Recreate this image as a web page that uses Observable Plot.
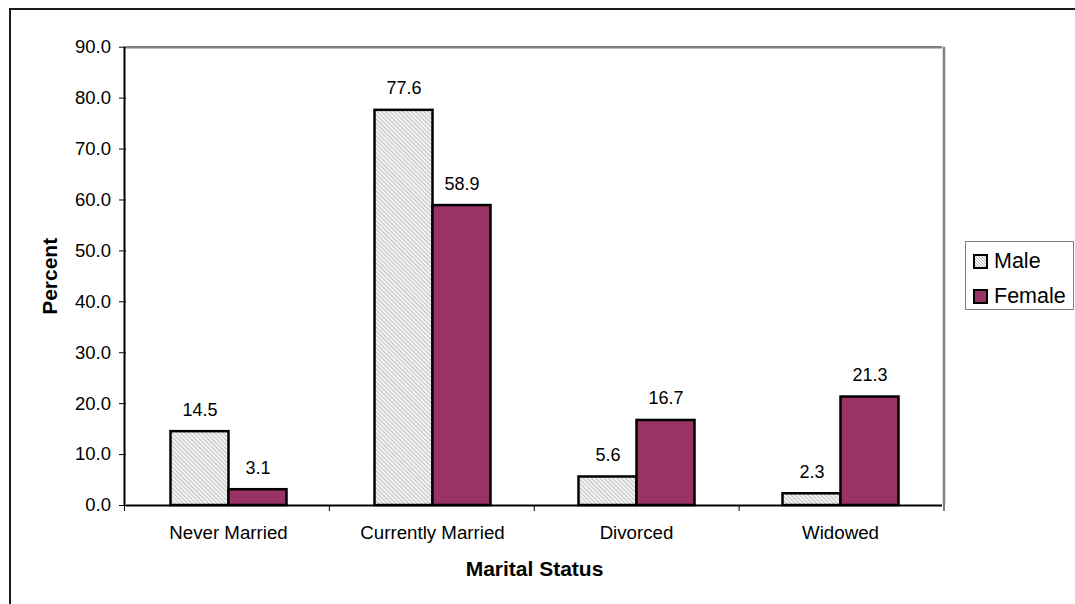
<!DOCTYPE html>
<html>
<head>
<meta charset="utf-8">
<script src="https://cdn.jsdelivr.net/npm/d3@7"></script>
<script src="https://cdn.jsdelivr.net/npm/@observablehq/plot@0.6"></script>
<style>
  html, body { margin: 0; padding: 0; background: #fff; }
  body { font-family: "Liberation Sans", Arial, sans-serif; }
  #wrap { position: relative; width: 1075px; height: 604px; overflow: hidden; background: #fff; }
  #chart { position: absolute; left: 0; top: 0; }
  #outer { position: absolute; left: 9px; top: 8px; width: 1200px; height: 800px;
           border-left: 2px solid #1a1a1a; border-top: 2px solid #1a1a1a; pointer-events: none; }
  #legend { position: absolute; left: 965px; top: 241px; width: 109px; height: 69px;
            border: 1.5px solid #7f7f7f; box-sizing: border-box; background: #fff; }
  .item { position: absolute; left: 7px; height: 24px; font-size: 21.5px; line-height: 24px; color: #000; white-space: nowrap; }
  .sw { position: absolute; left: 0; width: 15px; height: 15px; box-sizing: border-box; border: 2px solid #000; }
  .lab { position: absolute; left: 21px; top: 0; }
</style>
</head>
<body>
<div id="wrap">
  <div id="chart"></div>
  <div id="outer"></div>
  <div id="legend"></div>
</div>
<script>
// ---- data ----
const categories = ["Never Married", "Currently Married", "Divorced", "Widowed"];
const series = ["Male", "Female"];
const maleValues = [14.5, 77.6, 5.6, 2.3];
const femaleValues = [3.1, 58.9, 16.7, 21.3];
const yTicks = [0, 10, 20, 30, 40, 50, 60, 70, 80, 90];
const xTitle = "Marital Status";
const yTitle = "Percent";
const seriesColors = ["url(#hatch)", "#993366"];

const rows = [];
categories.forEach((c, i) => {
  rows.push({category: c, sex: "Male", value: maleValues[i]});
  rows.push({category: c, sex: "Female", value: femaleValues[i]});
});

const font = "'Liberation Sans', Arial, sans-serif";

const plot = Plot.plot({
  width: 1075,
  height: 604,
  marginLeft: 124.5,
  marginRight: 131,
  marginTop: 46.7,
  marginBottom: 99,
  style: {fontFamily: font, fontSize: "18.5px", color: "#000", background: "transparent", overflow: "visible"},
  fx: {domain: categories, padding: 0},
  x: {domain: series, paddingInner: 0, paddingOuter: 0.742, axis: null},
  y: {domain: [0, 90]},
  color: {type: "ordinal", domain: series, range: seriesColors},
  marks: [
    Plot.ruleY([90], {stroke: "#808080", strokeWidth: 2.5}),
    Plot.barY(rows, {fx: "category", x: "sex", y: "value", fill: "sex", stroke: "#000", strokeWidth: 2.5}),
    Plot.ruleY([0], {stroke: "#000", strokeWidth: 2}),
    Plot.text(rows, {fx: "category", x: "sex", y: "value", text: d => d.value.toFixed(1),
      lineAnchor: "bottom", dy: -16, fontSize: 18, fill: "#000"}),
    Plot.axisY({ticks: yTicks, tickFormat: d3.format(".1f"), tickSize: 7, tickPadding: 8.5,
      stroke: "#000", strokeWidth: 1, fontSize: 18.5, label: null}),
    Plot.axisY({ticks: [], tickSize: 0, label: yTitle, labelAnchor: "center", labelArrow: "none",
      labelOffset: 84, fontSize: 21, fontWeight: "bold"}),
    Plot.axisFx({anchor: "bottom", tickSize: 0, tickPadding: 20, fontSize: 18.7, label: null}),
    Plot.axisFx({anchor: "bottom", ticks: [], tickSize: 0, label: xTitle, labelAnchor: "center",
      labelArrow: "none", labelOffset: 70.5, fontSize: 21, fontWeight: "bold"})
  ]
});

document.getElementById("chart").appendChild(plot);
const svgEl = plot.tagName.toLowerCase() === "svg" ? plot : plot.querySelector("svg");
const svg = d3.select(svgEl);

// hatch pattern for the Male bars
svg.insert("defs", ":first-child").html(
  '<pattern id="hatch" patternUnits="userSpaceOnUse" width="3" height="3" patternTransform="rotate(-45)">' +
  '<rect width="3" height="3" fill="#f6f6f6"/>' +
  '<line x1="0.6" y1="0" x2="0.6" y2="3" stroke="#b4b4b4" stroke-width="0.9"/></pattern>'
);

// plot-area lines, built from the library's own scales
const fxS = plot.scale("fx");
const yS = plot.scale("y");
const band = d3.scaleBand().domain(fxS.domain).range(fxS.range)
  .paddingInner(fxS.paddingInner ?? fxS.padding ?? 0)
  .paddingOuter(fxS.paddingOuter ?? fxS.padding ?? 0)
  .align(fxS.align ?? 0.5);
const yLin = d3.scaleLinear().domain(yS.domain).range(yS.range);
const y0 = yLin(0), yTop = yLin(90);
const xLeft = band(categories[0]);
const xRight = band(categories[categories.length - 1]) + band.bandwidth();
const g = svg.append("g");
// right gray border of plot area
g.append("line").attr("x1", xRight).attr("x2", xRight).attr("y1", yTop).attr("y2", y0)
  .attr("stroke", "#808080").attr("stroke-width", 2.5);
// y axis line
g.append("line").attr("x1", xLeft).attr("x2", xLeft).attr("y1", yTop).attr("y2", y0)
  .attr("stroke", "#000").attr("stroke-width", 2);
// category boundary ticks
const bounds = categories.map(c => band(c)).concat([xRight]);
g.selectAll("line.b").data(bounds).join("line")
  .attr("x1", d => d).attr("x2", d => d).attr("y1", y0).attr("y2", y0 + 6)
  .attr("stroke", "#000").attr("stroke-width", 1);

// legend
const legend = d3.select("#legend");
const tops = [7, 42];
series.forEach((s, i) => {
  const it = legend.append("div").attr("class", "item").style("top", tops[i] + "px");
  const sw = it.append("div").attr("class", "sw").style("top", "5px");
  if (i === 0) {
    sw.style("background", "repeating-linear-gradient(45deg, #f6f6f6 0px, #f6f6f6 1.3px, #b4b4b4 1.3px, #b4b4b4 2.1px)");
  } else {
    sw.style("background", seriesColors[i]);
  }
  it.append("div").attr("class", "lab").text(s);
});
</script>
</body>
</html>
